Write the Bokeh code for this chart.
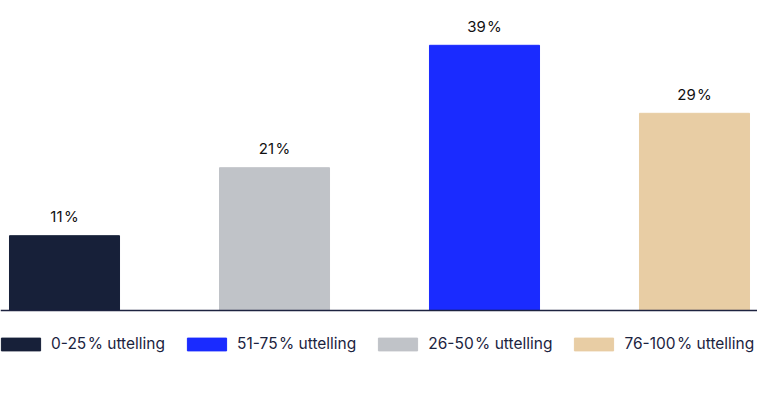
from bokeh.core.properties import value
from bokeh.embed import file_html
from bokeh.models import ColumnDataSource, Legend, LegendItem, Range1d, Span
from bokeh.plotting import figure
from bokeh.resources import INLINE

# data
categories = ["0-25\u200a% uttelling", "26-50\u200a% uttelling", "51-75\u200a% uttelling", "76-100\u200a% uttelling"]
shares = [11, 21, 39, 29]
labels = ["11\u200a%", "21\u200a%", "39\u200a%", "29\u200a%"]
colors = ["#172039", "#c0c3c8", "#1a2bff", "#e8cda4"]
legend_order = [0, 2, 1, 3]

FONT = "Inter"
TEXT = "#1b2340"

src = ColumnDataSource(dict(
    x=list(range(len(categories))),
    top=shares,
    label=labels,
    color=colors,
    name=categories,
))

p = figure(
    width=757,
    height=392,
    x_range=Range1d(-0.3048, 3.3),
    y_range=Range1d(-12.06, 45.59),
    output_backend="svg",
    toolbar_location=None,
    tools="",
    min_border=0,
)
p.axis.visible = False
p.grid.visible = False
p.outline_line_color = None

bars = p.vbar(x="x", top="top", bottom=0, width=0.524, color="color", source=src)

p.text(
    x="x", y="top", text="label", source=src,
    text_align="center", text_baseline="middle", y_offset=-19,
    text_font=value(FONT), text_font_size="15px", text_color="#111111",
)

p.add_layout(Span(location=0, dimension="width", line_color="#1d2340", line_width=1.5))

items = [LegendItem(label=categories[i], renderers=[bars], index=i) for i in legend_order]
legend = Legend(
    items=items,
    orientation="horizontal",
    location=(-4, 39),
    padding=0,
    margin=0,
    spacing=17,
    glyph_width=49,
    glyph_height=16,
    label_height=16,
    label_standoff=6,
    label_text_font=FONT,
    label_text_font_size="15.5px",
    label_text_color=TEXT,
    label_text_baseline="middle",
    border_line_color=None,
    background_fill_alpha=0,
)
p.add_layout(legend)

open("out.html", "w").write(file_html(p, INLINE))
